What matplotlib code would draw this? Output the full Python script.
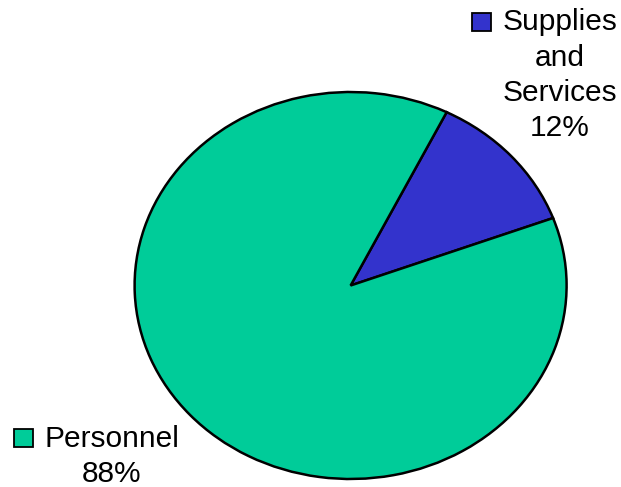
import matplotlib.pyplot as plt
from matplotlib.patches import Rectangle

categories = ['Supplies\nand\nServices', 'Personnel']
values = [12, 88]
colors = ['#3333CC', '#00CC99']

W, H = 621, 487
fig = plt.figure(figsize=(W / 100, H / 100), dpi=100)
plt.rcParams['font.family'] = ['Liberation Sans', 'DejaVu Sans']


def fx(px):
    return px / W


def fy(py):
    return 1 - py / H


# pie is drawn as an ellipse, so the axes box sets its shape
cx, cy, rx, ry = 350.6, 285.5, 216, 193.5
ax = fig.add_axes([fx(cx - rx), fy(cy + ry), 2 * rx / W, 2 * ry / H])
ax.pie(values, colors=colors, startangle=63.6, counterclock=False,
       wedgeprops=dict(edgecolor='black', linewidth=1.8))
ax.set_aspect('auto')
ax.set_xlim(-1, 1)
ax.set_ylim(-1, 1)
ax.axis('off')

# label blocks: (marker centre, text centre x, first baseline y)
label_pos = [((481, 22), 560, 30), ((23, 438), 112, 447)]
step = 35.5
for name, val, col, (mk, tx, ty) in zip(categories, values, colors, label_pos):
    fig.add_artist(Rectangle((fx(mk[0] - 9.5), fy(mk[1] + 9)), 19 / W, 18 / H,
                             transform=fig.transFigure, facecolor=col,
                             edgecolor='black', linewidth=1.3))
    lines = name.split('\n') + [f'{val}%']
    for i, line in enumerate(lines):
        fig.text(fx(tx), fy(ty + i * step), line, ha='center', va='baseline',
                 fontsize=21.5)

fig.savefig('out.png', dpi=100)
